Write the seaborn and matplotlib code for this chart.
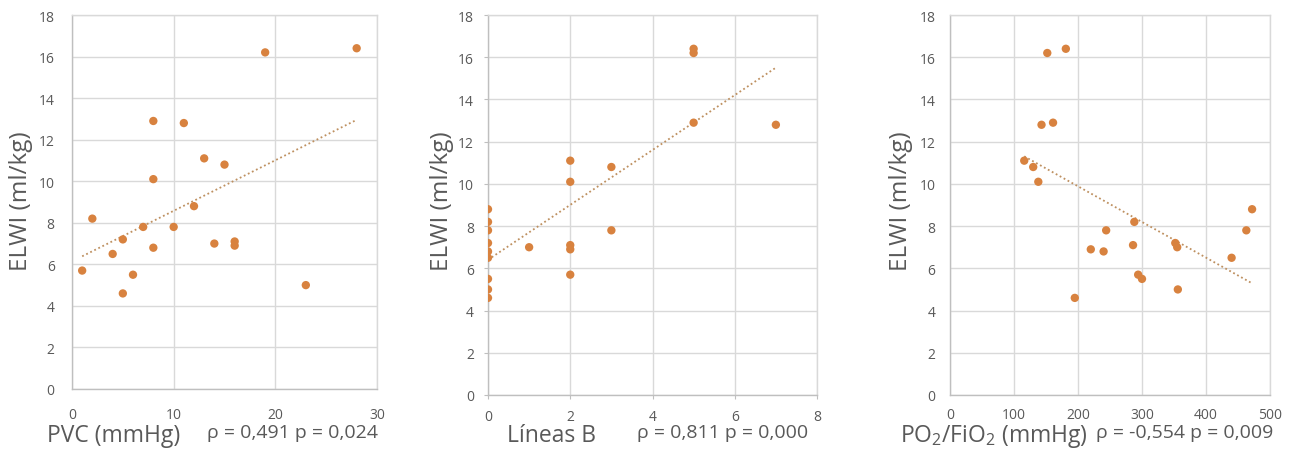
import numpy as np
import pandas as pd
import matplotlib
matplotlib.use("Agg")
import matplotlib.pyplot as plt
import seaborn as sns

# data
pvc = [1, 2, 4, 5, 5, 6, 7, 8, 8, 8, 10, 11, 12, 13, 14, 15, 16, 16, 19, 23, 28]
elwi_pvc = [5.7, 8.2, 6.5, 7.2, 4.6, 5.5, 7.8, 12.9, 10.1, 6.8, 7.8, 12.8, 8.8, 11.1,
            7.0, 10.8, 7.1, 6.9, 16.2, 5.0, 16.4]

lineas_b = [0, 0, 0, 0, 0, 0, 0, 0, 0, 1, 2, 2, 2, 2, 2, 3, 3, 5, 5, 5, 7]
elwi_lb = [8.8, 8.2, 7.8, 7.2, 6.8, 6.5, 5.5, 5.0, 4.6, 7.0, 11.1, 10.1, 7.1, 6.9, 5.7,
           10.8, 7.8, 16.4, 16.2, 12.9, 12.8]

pafi = [116, 130, 138, 143, 152, 161, 181, 195, 220, 240, 244, 286, 288, 294, 300,
        352, 355, 356, 440, 463, 472]
elwi_pafi = [11.1, 10.8, 10.1, 12.8, 16.2, 12.9, 16.4, 4.6, 6.9, 6.8, 7.8, 7.1, 8.2,
             5.7, 5.5, 7.2, 7.0, 5.0, 6.5, 7.8, 8.8]

xlabels = ["PVC (mmHg)", "Líneas B", "PO$_2$/FiO$_2$ (mmHg)"]
stats = ["ρ = 0,491 p = 0,024", "ρ = 0,811 p = 0,000", "ρ = -0,554 p = 0,009"]
xmax = [30, 8, 500]
xstep = [10, 2, 100]

sns.set_style("white")
plt.rcParams['font.family'] = ['Open Sans', 'DejaVu Sans']
plt.rcParams['mathtext.default'] = 'regular'

W, H = 1293, 452
fig = plt.figure(figsize=(W / 100, H / 100), dpi=100)

# pixel boxes: left, top, right, bottom
boxes = [(72, 16, 377, 390), (488, 16, 817, 396), (950, 16, 1270, 396)]
ylab_x = [21, 442, 901]
xlab_x = [47, 507, 900]
stat_x = [378, 808, 1273]
ypads = [12.5, 7, 10.5]
xpads = [13, 7, 9]
ticklen = [0, 3, 0]

dot = "#D8823F"
trend = "#BE9060"
grey = "#595959"

sets = [(pvc, elwi_pvc), (lineas_b, elwi_lb), (pafi, elwi_pafi)]

for i, (xs, ys) in enumerate(sets):
    l, t, r, b = boxes[i]
    ax = fig.add_axes([l / W, 1 - b / H, (r - l) / W, (b - t) / H])
    df = pd.DataFrame({"x": xs, "y": ys})
    sns.regplot(data=df, x="x", y="y", ax=ax, scatter=False, ci=None,
                line_kws=dict(color=trend, lw=1.3, ls=(0, (1, 1.5))))
    sns.scatterplot(data=df, x="x", y="y", ax=ax, color=dot, s=36,
                    edgecolor="none", zorder=3)
    ax.set_xlim(0, xmax[i])
    ax.set_ylim(0, 18)
    ax.set_xticks(np.arange(0, xmax[i] + 1, xstep[i]))
    ax.set_yticks(np.arange(0, 19, 2))
    ax.grid(True, color="#D9D9D9", lw=1)
    ax.set_axisbelow(True)
    for s in ["top", "right"]:
        ax.spines[s].set_color("#D9D9D9")
    for s in ["left", "bottom"]:
        ax.spines[s].set_color("#BFBFBF")
    for s in ax.spines.values():
        s.set_linewidth(1)
    ax.tick_params(axis="y", labelsize=10, labelcolor=grey, pad=ypads[i],
                   length=ticklen[i], color="#BFBFBF", left=ticklen[i] > 0)
    ax.tick_params(axis="x", labelsize=10, labelcolor=grey, pad=xpads[i],
                   length=ticklen[i], color="#BFBFBF", bottom=ticklen[i] > 0)
    ax.set_xlabel("")
    ax.set_ylabel("")
    fig.text(ylab_x[i] / W, 1 - 201 / H, "ELWI (ml/kg)", rotation=90,
             ha="center", va="center", fontsize=17.5, color=grey)
    fig.text(xlab_x[i] / W, 1 - 442 / H, xlabels[i], ha="left", va="baseline",
             fontsize=16.5, color=grey)
    fig.text(stat_x[i] / W, 1 - 438 / H, stats[i], ha="right", va="baseline",
             fontsize=14, color=grey)

fig.savefig("out.png", dpi=100)
